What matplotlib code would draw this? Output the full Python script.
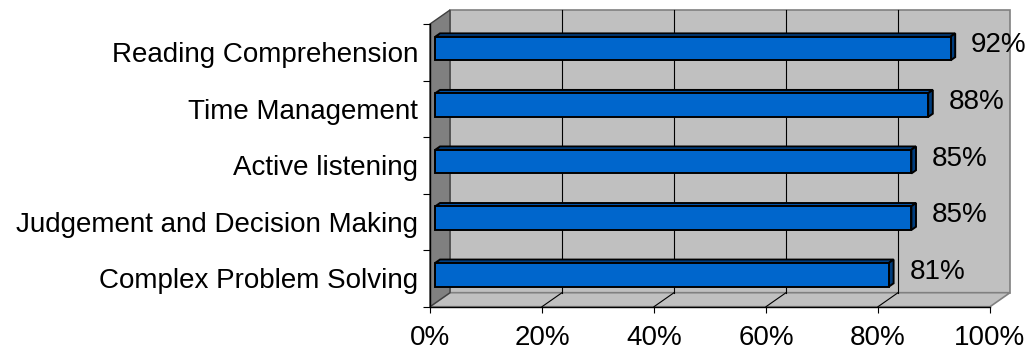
import matplotlib
matplotlib.use('Agg')
import matplotlib.pyplot as plt
from matplotlib.patches import Polygon

plt.rcParams['font.family'] = ['Liberation Sans', 'DejaVu Sans']

# data (bottom to top)
skills = ['Complex Problem Solving', 'Judgement and Decision Making',
          'Active listening', 'Time Management', 'Reading Comprehension']
values = [81, 85, 85, 88, 92]
xticks = [0, 20, 40, 60, 80, 100]

W, H = 1029, 350
fig = plt.figure(figsize=(W / 100, H / 100), dpi=100)
ax = fig.add_axes([430 / W, 43.3 / H, 560 / W, 282.7 / H])
ax.set_xlim(0, 100)
ax.set_ylim(-0.5, len(skills) - 0.5)
ax.patch.set_visible(False)

# 3d depth offset in data units (20px right, 14px up)
ddx = 20 * 100 / 560
ddy = 14 / 56.54
ytop = len(skills) - 0.5

def poly(pts, fc, ec, lw=0.8, z=1):
    ax.add_patch(Polygon(pts, closed=True, facecolor=fc, edgecolor=ec,
                         linewidth=lw, clip_on=False, zorder=z, joinstyle='miter'))

# back wall
poly([(ddx, -0.5 + ddy), (100 + ddx, -0.5 + ddy), (100 + ddx, ytop + ddy), (ddx, ytop + ddy)],
     '#c0c0c0', '#808080', 1.2)
# floor
poly([(0, -0.5), (100, -0.5), (100 + ddx, -0.5 + ddy), (ddx, -0.5 + ddy)],
     '#c0c0c0', '#808080', 1.2)
# left side wall
poly([(0, -0.5), (ddx, -0.5 + ddy), (ddx, ytop + ddy), (0, ytop)],
     '#808080', '#404040', 1.0)

# gridlines on back wall and floor
for g in xticks[1:-1]:
    ax.plot([g + ddx, g + ddx], [-0.5 + ddy, ytop + ddy], color='black', lw=0.8,
            clip_on=False, zorder=1.5)
    ax.plot([g, g + ddx], [-0.5, -0.5 + ddy], color='black', lw=0.8,
            clip_on=False, zorder=1.5)

# bars
t0, t1 = 0.27, 0.5
hh = 0.21
for i, v in enumerate(values):
    x0f, y0f = t0 * ddx, i - hh + t0 * ddy
    x1f, y1f = v + t0 * ddx, i + hh + t0 * ddy
    bx, by = (t1 - t0) * ddx, (t1 - t0) * ddy
    # top face
    poly([(x0f, y1f), (x1f, y1f), (x1f + bx, y1f + by), (x0f + bx, y1f + by)],
         '#0052a8', 'black', 1.4, 3)
    # right face
    poly([(x1f, y0f), (x1f + bx, y0f + by), (x1f + bx, y1f + by), (x1f, y1f)],
         '#003d7d', 'black', 1.4, 3)
    # front face
    poly([(x0f, y0f), (x1f, y0f), (x1f, y1f), (x0f, y1f)],
         '#0066cc', 'black', 1.4, 3)
    ax.text(v + t1 * ddx + 16 * 100 / 560, i + 0.12, f'{v}%', fontsize=20,
            ha='left', va='center', color='black', zorder=4)

# axes
for s in ['top', 'right']:
    ax.spines[s].set_visible(False)
for s in ['left', 'bottom']:
    ax.spines[s].set_color('black')
    ax.spines[s].set_linewidth(1.0)
    ax.spines[s].set_zorder(2)

ax.set_xticks(xticks)
ax.set_xticklabels([f'{t}%' for t in xticks], fontsize=20)
ax.tick_params(axis='x', length=4.5, width=0.8, pad=9, colors='black')

ax.set_yticks([k - 0.5 for k in range(len(skills) + 1)])
ax.set_yticklabels([])
ax.set_yticks(range(len(skills)), minor=True)
ax.set_yticklabels(skills, minor=True, fontsize=20)
ax.tick_params(axis='y', which='major', length=5, width=0.8)
ax.tick_params(axis='y', which='minor', length=0, pad=8.5)

fig.savefig('out.png', dpi=100)
